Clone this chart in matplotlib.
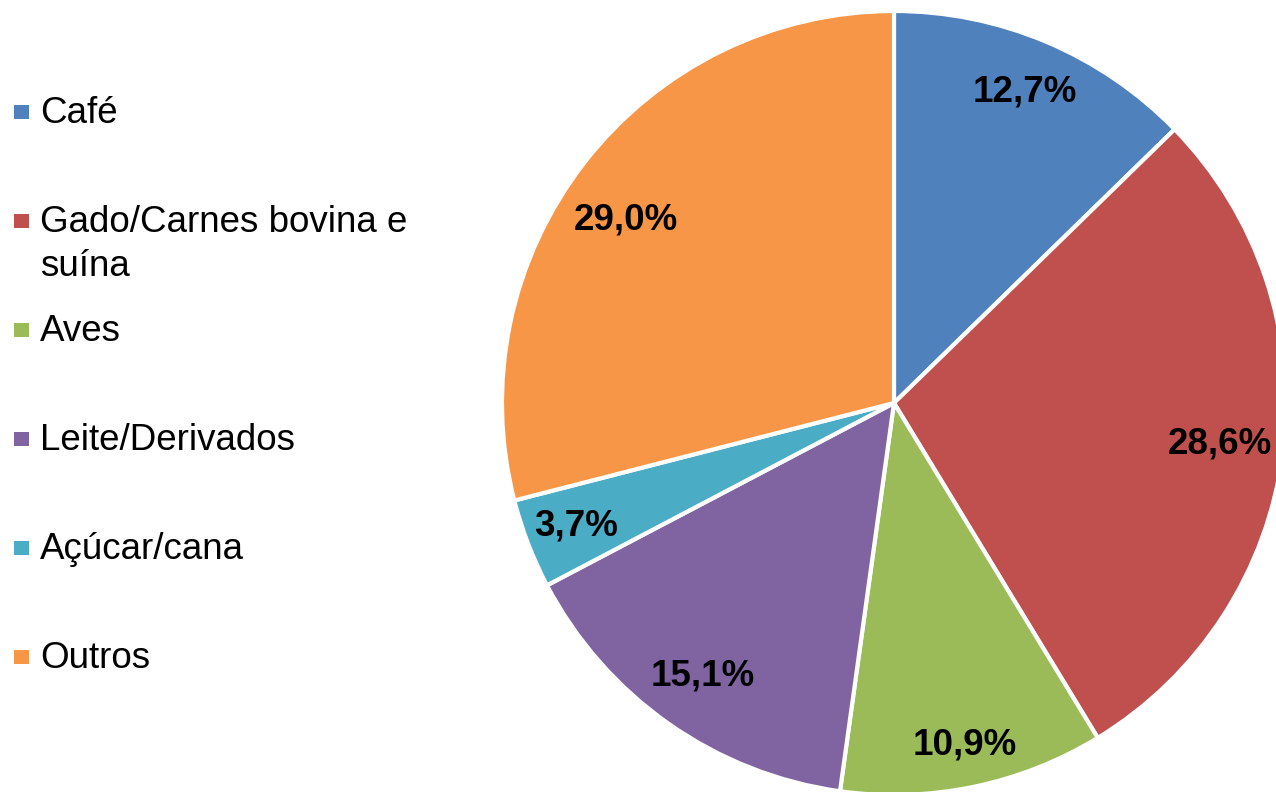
import numpy as np
import matplotlib
matplotlib.use('Agg')
import matplotlib.pyplot as plt
from matplotlib.patches import Rectangle

plt.rcParams['font.family'] = ['Liberation Sans', 'DejaVu Sans']

# data
categorias = ['Café', 'Gado/Carnes bovina e\nsuína', 'Aves', 'Leite/Derivados', 'Açúcar/cana', 'Outros']
valores = [12.7, 28.6, 10.9, 15.1, 3.7, 29.0]
cores = ['#4F81BD', '#C0504D', '#9BBB59', '#8064A2', '#4BACC6', '#F79646']

W, H = 1276, 792
fig = plt.figure(figsize=(W / 100, H / 100), dpi=100, facecolor='w')

# pie axes: center (894, 403) px, radius 392 px
cx, cy, r = 894, 403, 392
ax = fig.add_axes([(cx - r) / W, (H - cy - r) / H, 2 * r / W, 2 * r / H])
wedges, texts, autotexts = ax.pie(
    valores, colors=cores, startangle=90, counterclock=False,
    radius=1, pctdistance=0.85,
    autopct=lambda p: ('%.1f%%' % p).replace('.', ','),
    wedgeprops=dict(edgecolor='white', linewidth=3),
    textprops=dict(fontsize=26.5, fontweight='bold', color='black'))

# label placement as in the original (distance / angle tweak per slice)
dist = [0.86, 0.837, 0.89, 0.85, 0.87, 0.828]
dang = [0, 0, 0, 0, 0, 3.5]
for w, t, d, da in zip(wedges, autotexts, dist, dang):
    a = np.deg2rad((w.theta1 + w.theta2) / 2 + da)
    t.set_position((d * np.cos(a), d * np.sin(a)))

ax.set_xlim(-1, 1)
ax.set_ylim(-1, 1)
ax.set_aspect('equal')
ax.axis('off')

# legend on the left, drawn by hand (entries evenly spaced)
for i, (cat, cor) in enumerate(zip(categorias, cores)):
    yc = 112 + 109 * i
    fig.patches.append(Rectangle((14 / W, 1 - (yc + 7) / H), 15 / W, 14 / H,
                                 transform=fig.transFigure, facecolor=cor,
                                 edgecolor='none'))
    for k, linha in enumerate(cat.split('\n')):
        fig.text(40 / W, 1 - (yc + 11 + 44 * k) / H, linha, fontsize=26.5,
                 va='baseline', ha='left')

fig.savefig('out.png', dpi=100)
